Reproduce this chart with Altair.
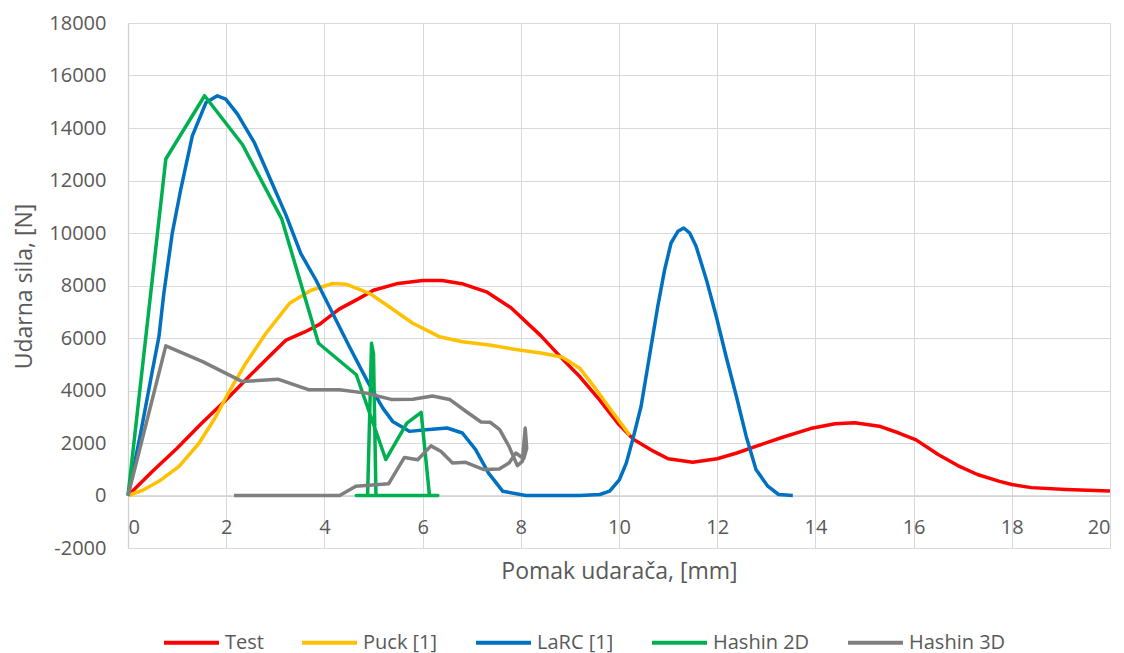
import altair as alt
import pandas as pd

# ---- data ----
test_x = [0, 0.5, 1.0, 1.5, 2.0, 2.5, 3.0, 3.22, 3.6, 3.9, 4.3, 4.7, 5.0, 5.5, 6.0, 6.4, 6.8, 7.3,
          7.8, 8.4, 8.9, 9.2, 9.6, 10.0, 10.3, 10.7, 11.0, 11.5, 12.0, 12.4, 12.8, 13.3, 13.9,
          14.4, 14.8, 15.3, 15.7, 16.05, 16.5, 16.9, 17.3, 17.75, 18.0, 18.4, 19.1, 20.0]
test_y = [0, 920, 1800, 2750, 3650, 4600, 5520, 5920, 6230, 6520, 7100, 7500, 7820, 8080, 8190,
          8190, 8070, 7760, 7150, 6100, 5100, 4530, 3650, 2700, 2130, 1690, 1400, 1270, 1400,
          1620, 1880, 2200, 2550, 2730, 2770, 2640, 2380, 2120, 1560, 1140, 800, 540, 420, 300,
          230, 170]

puck_x = [0, 0.3, 0.63, 1.04, 1.45, 1.79, 2.06, 2.4, 2.81, 3.29, 3.73, 4.17, 4.44, 4.92, 5.32,
          5.8, 6.34, 6.81, 7.36, 7.97, 8.44, 8.85, 9.2, 9.53, 9.86, 10.22]
puck_y = [0, 200, 540, 1110, 2000, 3010, 3960, 5040, 6180, 7320, 7820, 8076, 8050, 7700, 7190,
          6560, 6050, 5860, 5730, 5540, 5420, 5270, 4850, 4050, 3200, 2300]

larc_x = [0, 0.25, 0.5, 0.63, 0.73, 0.9, 1.07, 1.31, 1.59, 1.82, 1.99, 2.23, 2.57, 2.91, 3.22,
          3.52, 3.83, 4.17, 4.51, 4.88, 5.19, 5.39, 5.73, 6.07, 6.5, 6.81, 7.08, 7.34, 7.63, 8.1,
          9.2, 9.61, 9.81, 10.01, 10.15, 10.28, 10.45, 10.62, 10.79, 10.93, 11.06, 11.2, 11.32,
          11.44, 11.57, 11.78, 11.98, 12.18, 12.39, 12.59, 12.79, 13.03, 13.25, 13.54]
larc_y = [0, 2300, 4790, 6050, 7700, 9975, 11620, 13700, 14975, 15228, 15100, 14530, 13455,
          12000, 10670, 9215, 8200, 6936, 5670, 4340, 3330, 2823, 2443, 2506, 2570, 2380, 1747,
          860, 165, 0, 0, 38, 165, 609, 1244, 2132, 3401, 5305, 7208, 8604, 9619, 10063, 10190,
          10000, 9492, 8223, 6827, 5305, 3782, 2259, 990, 355, 38, 0]

h2d_x = [0, 0.77, 1.56, 2.33, 3.13, 3.88, 4.65, 5.25, 5.68, 5.97, 6.14, 6.31, 4.65, 4.88, 4.96,
         5.0, 5.05]
h2d_y = [0, 12820, 15230, 13370, 10540, 5800, 4600, 1370, 2760, 3170, 0, 0, 0, 0, 5800, 5400, 0]

h3d_x = [0, 0.77, 1.52, 2.33, 3.05, 3.69, 4.31, 4.85, 5.36, 5.8, 6.2, 6.55, 6.88, 7.19, 7.38,
         7.57, 7.76, 7.93, 8.03, 8.09, 8.12, 8.06, 7.9, 7.76, 7.56, 7.25, 7.08, 6.88, 6.61, 6.37,
         6.17, 5.9, 5.63, 5.31, 4.64, 4.31, 2.16]
h3d_y = [0, 5700, 5100, 4340, 4430, 4025, 4025, 3900, 3660, 3670, 3790, 3660, 3210, 2800, 2790,
         2506, 1870, 1140, 1300, 2570, 1800, 1400, 1620, 1240, 1013, 990, 1114, 1266, 1240, 1684,
         1890, 1360, 1450, 450, 354, 0, 0]

names = ["Test", "Puck [1]", "LaRC [1]", "Hashin 2D", "Hashin 3D"]
colors = ["#FF0000", "#FFC000", "#0070C0", "#00B050", "#7F7F7F"]
x_ticks = list(range(0, 21, 2))
y_ticks = list(range(-2000, 18001, 2000))

series = [(names[0], test_x, test_y), (names[1], puck_x, puck_y), (names[2], larc_x, larc_y),
          (names[3], h2d_x, h2d_y), (names[4], h3d_x, h3d_y)]
rows = []
for name, xs, ys in series:
    for i, (xv, yv) in enumerate(zip(xs, ys)):
        rows.append({"series": name, "x": xv, "y": yv, "i": i})
df = pd.DataFrame(rows)

FONT = "Open Sans"
TXT = "#595959"
PLOT_H = 525
PLOT_W = 982

chart = alt.Chart(df).mark_line(strokeWidth=3.5, strokeJoin="round").encode(
    x=alt.X("x:Q",
            scale=alt.Scale(domain=[0, 20], nice=False, zero=False),
            axis=alt.Axis(values=x_ticks, title="Pomak udarača, [mm]",
                          offset=-PLOT_H / 10.0, labelPadding=22, titlePadding=23,
                          domainColor="#D0D0D0", domainWidth=1.3)),
    y=alt.Y("y:Q",
            scale=alt.Scale(domain=[-2000, 18000], nice=False, zero=False),
            axis=alt.Axis(values=y_ticks, labelExpr="datum.value + ''",
                          title="Udarna sila, [N]",
                          labelPadding=22, titleX=-104, titleY=263, titleBaseline="middle",
                          domainColor="#D0D0D0", domainWidth=1.3)),
    color=alt.Color("series:N",
                    scale=alt.Scale(domain=names, range=colors),
                    sort=names,
                    legend=alt.Legend(title=None, orient="none", legendX=34, legendY=590,
                                      direction="horizontal", symbolType="stroke",
                                      symbolSize=3025, symbolStrokeWidth=4,
                                      labelFontSize=20, labelFont=FONT, labelColor=TXT,
                                      columnPadding=30, labelOffset=4)),
    order=alt.Order("i:Q"),
).properties(
    width=PLOT_W, height=PLOT_H,
    autosize=alt.AutoSizeParams(type="none"),
    padding={"left": 120, "top": 15, "right": 6, "bottom": 115},
).configure_view(
    stroke="transparent"
).configure_axis(
    grid=True, gridColor="#D9D9D9", gridWidth=1,
    ticks=False, tickSize=0,
    labelFont=FONT, labelFontSize=20, labelColor=TXT,
    titleFont=FONT, titleFontSize=23, titleColor=TXT, titleFontWeight="normal",
)

chart.save("out.html", embed_options={"renderer": "svg", "actions": False})
